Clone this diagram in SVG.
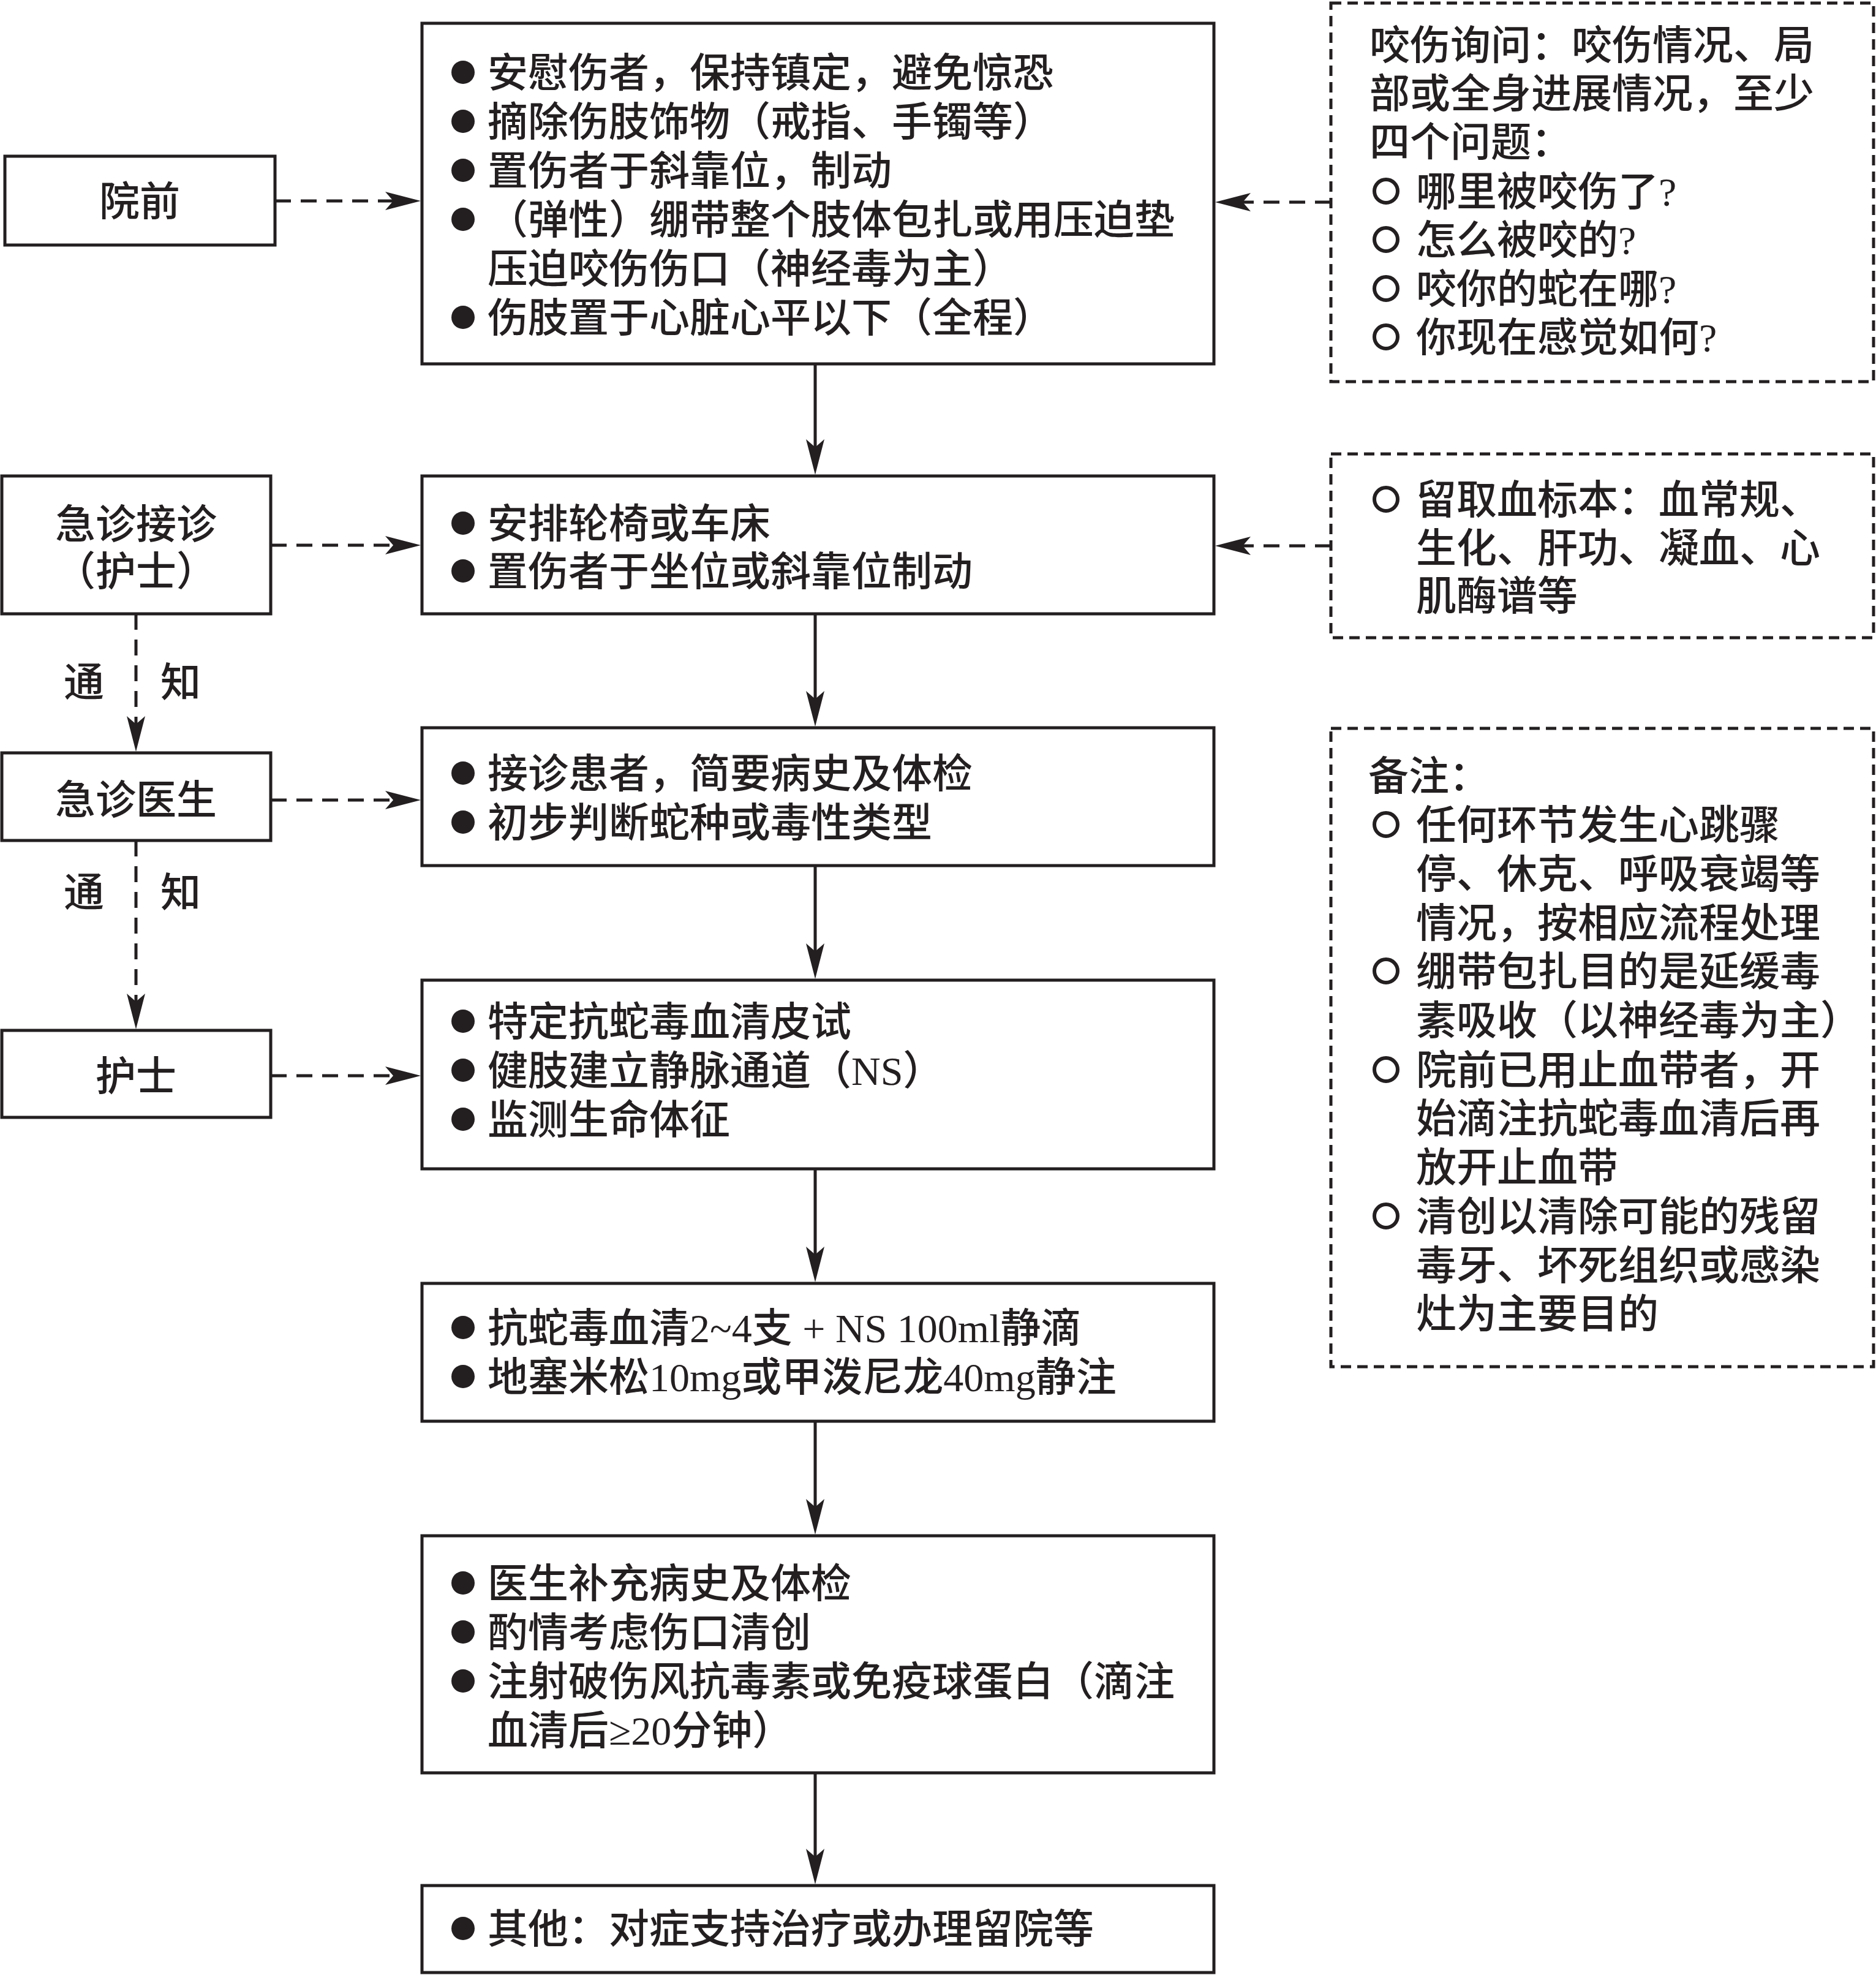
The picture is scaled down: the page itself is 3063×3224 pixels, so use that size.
<svg xmlns="http://www.w3.org/2000/svg" width="3063" height="3224" viewBox="0 0 3063 3224">
<defs>
<style>
.box{fill:#fff;stroke:#231f20;stroke-width:5}
.dbox{fill:#fff;stroke:#231f20;stroke-width:5;stroke-dasharray:17 10}
.t{font-family:"Liberation Serif","Noto Sans CJK SC",serif;font-size:66px;font-weight:500;fill:#231f20}
.c{text-anchor:middle}
.dot{fill:#231f20}
.ring{fill:none;stroke:#231f20;stroke-width:6}
.solid{stroke:#231f20;stroke-width:5;fill:none}
.dash{stroke:#231f20;stroke-width:5;fill:none;stroke-dasharray:26 16}
</style>
<marker id="ah" viewBox="0 0 58 30" markerUnits="userSpaceOnUse" markerWidth="58" markerHeight="30" refX="38" refY="15" orient="auto">
<path d="M0,0 L58,15 L0,30 L13,15 Z" fill="#231f20"/>
</marker>
</defs>
<rect width="3063" height="3224" fill="#fff"/>

<g id="connectors">
<line class="solid" x1="1331" y1="594" x2="1331" y2="755" marker-end="url(#ah)"/>
<line class="solid" x1="1331" y1="1002" x2="1331" y2="1166" marker-end="url(#ah)"/>
<line class="solid" x1="1331" y1="1413" x2="1331" y2="1578" marker-end="url(#ah)"/>
<line class="solid" x1="1331" y1="1908" x2="1331" y2="2073" marker-end="url(#ah)"/>
<line class="solid" x1="1331" y1="2320" x2="1331" y2="2485" marker-end="url(#ah)"/>
<line class="solid" x1="1331" y1="2894" x2="1331" y2="3056" marker-end="url(#ah)"/>
<line class="dash" x1="449" y1="328" x2="667" y2="328" marker-end="url(#ah)"/>
<line class="dash" x1="442" y1="890" x2="667" y2="890" marker-end="url(#ah)"/>
<line class="dash" x1="442" y1="1306" x2="667" y2="1306" marker-end="url(#ah)"/>
<line class="dash" x1="442" y1="1756" x2="667" y2="1756" marker-end="url(#ah)"/>
<line class="dash" x1="2173" y1="330" x2="2004" y2="330" marker-end="url(#ah)"/>
<line class="dash" x1="2173" y1="891" x2="2004" y2="891" marker-end="url(#ah)"/>
<line class="dash" x1="222" y1="1002" x2="222" y2="1207" marker-end="url(#ah)"/>
<line class="dash" x1="222" y1="1372" x2="222" y2="1660" marker-end="url(#ah)"/>
<text class="t c" x="137" y="1137">通</text>
<text class="t c" x="295" y="1137">知</text>
<text class="t c" x="137" y="1480">通</text>
<text class="t c" x="295" y="1480">知</text>
</g>

<g id="n-yuanqian">
<rect class="box" x="8" y="255" width="441" height="145"/>
<text class="t c" x="228" y="352">院前</text>
</g>
<g id="n-jizhenjiezhen">
<rect class="box" x="3" y="777" width="439" height="225"/>
<text class="t c" x="222" y="879">急诊接诊</text>
<text class="t c" x="222" y="956">（护士）</text>
</g>
<g id="n-jizhenyisheng">
<rect class="box" x="3" y="1229" width="439" height="143"/>
<text class="t c" x="222" y="1329">急诊医生</text>
</g>
<g id="n-hushi">
<rect class="box" x="3" y="1682" width="439" height="142"/>
<text class="t c" x="222" y="1780">护士</text>
</g>

<g id="n-step1">
<rect class="box" x="689" y="38" width="1293" height="556"/>
<circle class="dot" cx="756" cy="118" r="19"/>
<circle class="dot" cx="756" cy="198" r="19"/>
<circle class="dot" cx="756" cy="278" r="19"/>
<circle class="dot" cx="756" cy="358" r="19"/>
<circle class="dot" cx="756" cy="518" r="19"/>
<text class="t" x="796" y="142">安慰伤者，保持镇定，避免惊恐</text>
<text class="t" x="796" y="222">摘除伤肢饰物（戒指、手镯等）</text>
<text class="t" x="796" y="302">置伤者于斜靠位，制动</text>
<text class="t" x="796" y="382">（弹性）绷带整个肢体包扎或用压迫垫</text>
<text class="t" x="796" y="462">压迫咬伤伤口（神经毒为主）</text>
<text class="t" x="796" y="542">伤肢置于心脏心平以下（全程）</text>
</g>

<g id="n-step2">
<rect class="box" x="689" y="777" width="1293" height="225"/>
<circle class="dot" cx="756" cy="854" r="19"/>
<circle class="dot" cx="756" cy="932" r="19"/>
<text class="t" x="796" y="878">安排轮椅或车床</text>
<text class="t" x="796" y="956">置伤者于坐位或斜靠位制动</text>
</g>

<g id="n-step3">
<rect class="box" x="689" y="1188" width="1293" height="225"/>
<circle class="dot" cx="756" cy="1262" r="19"/>
<circle class="dot" cx="756" cy="1342" r="19"/>
<text class="t" x="796" y="1286">接诊患者，简要病史及体检</text>
<text class="t" x="796" y="1366">初步判断蛇种或毒性类型</text>
</g>

<g id="n-step4">
<rect class="box" x="689" y="1600" width="1293" height="308"/>
<circle class="dot" cx="756" cy="1667" r="19"/>
<circle class="dot" cx="756" cy="1747" r="19"/>
<circle class="dot" cx="756" cy="1827" r="19"/>
<text class="t" x="796" y="1691">特定抗蛇毒血清皮试</text>
<text class="t" x="796" y="1771">健肢建立静脉通道（NS）</text>
<text class="t" x="796" y="1851">监测生命体征</text>
</g>

<g id="n-step5">
<rect class="box" x="689" y="2095" width="1293" height="225"/>
<circle class="dot" cx="756" cy="2167" r="19"/>
<circle class="dot" cx="756" cy="2247" r="19"/>
<text class="t" x="796" y="2191">抗蛇毒血清2~4支 + NS 100ml静滴</text>
<text class="t" x="796" y="2271">地塞米松10mg或甲泼尼龙40mg静注</text>
</g>

<g id="n-step6">
<rect class="box" x="689" y="2507" width="1293" height="387"/>
<circle class="dot" cx="756" cy="2584" r="19"/>
<circle class="dot" cx="756" cy="2664" r="19"/>
<circle class="dot" cx="756" cy="2744" r="19"/>
<text class="t" x="796" y="2608">医生补充病史及体检</text>
<text class="t" x="796" y="2688">酌情考虑伤口清创</text>
<text class="t" x="796" y="2768">注射破伤风抗毒素或免疫球蛋白（滴注</text>
<text class="t" x="796" y="2848">血清后≥20分钟）</text>
</g>

<g id="n-step7">
<rect class="box" x="689" y="3078" width="1293" height="142"/>
<circle class="dot" cx="756" cy="3148" r="19"/>
<text class="t" x="796" y="3172">其他：对症支持治疗或办理留院等</text>
</g>

<g id="n-inquiry">
<rect class="dbox" x="2173" y="5" width="886" height="618"/>
<text class="t" x="2236" y="97">咬伤询问：咬伤情况、局</text>
<text class="t" x="2236" y="176">部或全身进展情况，至少</text>
<text class="t" x="2236" y="255">四个问题：</text>
<circle class="ring" cx="2263" cy="312" r="19"/>
<circle class="ring" cx="2263" cy="391" r="19"/>
<circle class="ring" cx="2263" cy="471" r="19"/>
<circle class="ring" cx="2263" cy="550" r="19"/>
<text class="t" x="2312" y="336">哪里被咬伤了?</text>
<text class="t" x="2312" y="415">怎么被咬的?</text>
<text class="t" x="2312" y="495">咬你的蛇在哪?</text>
<text class="t" x="2312" y="574">你现在感觉如何?</text>
</g>

<g id="n-blood">
<rect class="dbox" x="2173" y="741" width="886" height="300"/>
<circle class="ring" cx="2263" cy="815" r="19"/>
<text class="t" x="2312" y="839">留取血标本：血常规、</text>
<text class="t" x="2312" y="918">生化、肝功、凝血、心</text>
<text class="t" x="2312" y="996">肌酶谱等</text>
</g>

<g id="n-notes">
<rect class="dbox" x="2173" y="1189" width="886" height="1042"/>
<text class="t" x="2234" y="1290">备注：</text>
<circle class="ring" cx="2263" cy="1346" r="19"/>
<circle class="ring" cx="2263" cy="1585" r="19"/>
<circle class="ring" cx="2263" cy="1746" r="19"/>
<circle class="ring" cx="2263" cy="1985" r="19"/>
<text class="t" x="2312" y="1370">任何环节发生心跳骤</text>
<text class="t" x="2312" y="1450">停、休克、呼吸衰竭等</text>
<text class="t" x="2312" y="1530">情况，按相应流程处理</text>
<text class="t" x="2312" y="1609">绷带包扎目的是延缓毒</text>
<text class="t" x="2312" y="1689">素吸收（以神经毒为主）</text>
<text class="t" x="2312" y="1770">院前已用止血带者，开</text>
<text class="t" x="2312" y="1849">始滴注抗蛇毒血清后再</text>
<text class="t" x="2312" y="1929">放开止血带</text>
<text class="t" x="2312" y="2009">清创以清除可能的残留</text>
<text class="t" x="2312" y="2089">毒牙、坏死组织或感染</text>
<text class="t" x="2312" y="2168">灶为主要目的</text>
</g>
</svg>
